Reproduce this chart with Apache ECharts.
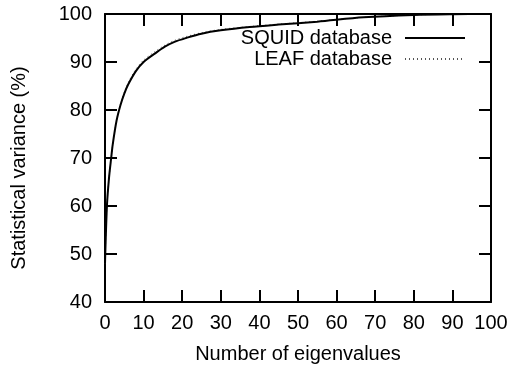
<!DOCTYPE html>
<html>
<head>
<meta charset="utf-8">
<script src="https://cdn.jsdelivr.net/npm/echarts@6/dist/echarts.min.js"></script>
<style>
  html, body { margin: 0; padding: 0; background: #fff; }
  #chart { width: 512px; height: 371px; }
</style>
</head>
<body>
<div id="chart"></div>
<script>
var squidX = [0, 0.5, 1, 1.6, 2, 3, 4, 5, 6, 8, 10, 13, 15.5, 18, 21, 25, 30, 37.5, 45, 55, 67, 80, 90, 100];
var squidY = [48, 60, 65.5, 70, 72.8, 77.8, 81, 83.4, 85.3, 88.1, 90, 91.8, 93.2, 94.2, 95, 95.9, 96.6, 97.3, 97.8, 98.4, 99.3, 99.8, 99.95, 100];
var leafX = [0, 0.5, 1, 1.6, 2, 3, 4, 5, 6, 8, 10, 13, 15.5, 18, 21, 25, 30, 37.5, 45, 55, 67, 80, 90, 100];
var leafY = [48, 60, 65.5, 70, 72.8, 77.9, 81.2, 83.7, 85.7, 88.5, 90.4, 92.2, 93.5, 94.5, 95.3, 96.1, 96.8, 97.4, 97.9, 98.5, 99.3, 99.8, 99.95, 100];
var xTicks = [0, 100, 10];
var yTicks = [40, 100, 10];

function pairs(xs, ys) {
  return xs.map(function (x, i) { return [x, ys[i]]; });
}

var chart = echarts.init(document.getElementById("chart"));
var font = "Liberation Sans";
var frame = { show: true, onZero: false, lineStyle: { color: "#000", width: 2 } };
var inTick = { show: true, inside: true, length: 12, lineStyle: { color: "#000", width: 2 } };
var legendText = { fontFamily: font, fontSize: 20, color: "#000", padding: [0, 8, 0, 0] };

chart.setOption({
  animation: false,
  textStyle: { fontFamily: font },
  grid: { left: 105, right: 21, top: 14, bottom: 69 },
  legend: [
    {
      data: ["SQUID database"],
      right: 46, top: 28, align: "right", padding: 0,
      itemWidth: 60, itemHeight: 14, itemStyle: { opacity: 0 },
      textStyle: legendText
    },
    {
      data: ["LEAF database"],
      right: 46, top: 49, align: "right", padding: 0,
      itemWidth: 60, itemHeight: 14, itemStyle: { opacity: 0 },
      textStyle: legendText
    }
  ],
  xAxis: [
    {
      type: "value", min: xTicks[0], max: xTicks[1], interval: xTicks[2],
      name: "Number of eigenvalues", nameLocation: "middle", nameGap: 42,
      nameTextStyle: { fontSize: 20, color: "#000", fontFamily: font },
      axisLine: frame, axisTick: inTick, splitLine: { show: false },
      axisLabel: { fontSize: 20, color: "#000", margin: 11, fontFamily: font }
    },
    {
      type: "value", position: "top", min: xTicks[0], max: xTicks[1], interval: xTicks[2],
      axisLine: frame, axisTick: inTick, splitLine: { show: false },
      axisLabel: { show: false }
    }
  ],
  yAxis: [
    {
      type: "value", min: yTicks[0], max: yTicks[1], interval: yTicks[2],
      name: "Statistical variance (%)", nameLocation: "middle", nameGap: 76,
      nameTextStyle: { fontSize: 20, color: "#000", fontFamily: font, padding: [0, 20, 0, 0] },
      axisLine: frame, axisTick: inTick, splitLine: { show: false },
      axisLabel: { fontSize: 20, color: "#000", margin: 13, fontFamily: font }
    },
    {
      type: "value", position: "right", min: yTicks[0], max: yTicks[1], interval: yTicks[2],
      axisLine: frame, axisTick: inTick, splitLine: { show: false },
      axisLabel: { show: false }
    }
  ],
  series: [
    {
      name: "LEAF database", type: "line", smooth: 0.3, symbol: "none",
      lineStyle: { color: "#555", width: 1, type: [1, 3] },
      itemStyle: { color: "#555" },
      data: pairs(leafX, leafY)
    },
    {
      name: "SQUID database", type: "line", smooth: 0.3, symbol: "none",
      lineStyle: { color: "#000", width: 2 },
      itemStyle: { color: "#000" },
      data: pairs(squidX, squidY)
    }
  ]
});
</script>
</body>
</html>
